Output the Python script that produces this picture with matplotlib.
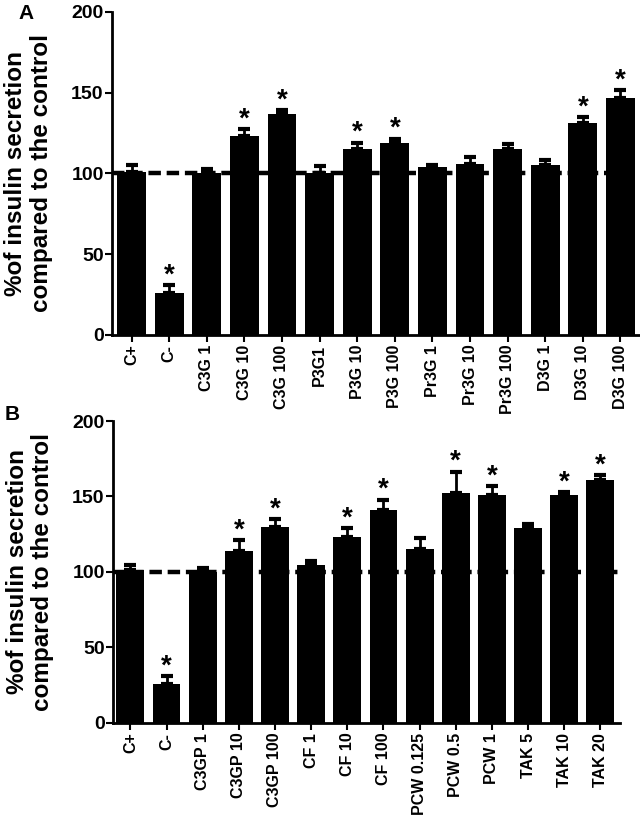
import matplotlib
matplotlib.use("Agg")
import matplotlib.pyplot as plt

plt.rcParams['font.family'] = ['Liberation Sans', 'DejaVu Sans']
plt.rcParams['font.weight'] = 'bold'

# Painel A
labels_a = ["C+", "C-", "C3G 1", "C3G 10", "C3G 100", "P3G1", "P3G 10", "P3G 100",
            "Pr3G 1", "Pr3G 10", "Pr3G 100", "D3G 1", "D3G 10", "D3G 100"]
media_a = [101, 26, 100, 123, 137, 100, 115, 119, 104, 106, 115, 105, 131, 147]
erro_a = [4, 5, 2.5, 4.5, 2, 4.5, 4, 2.5, 1, 4.5, 3, 3.5, 4, 4.5]
sig_a = [0, 1, 0, 1, 1, 0, 1, 1, 0, 0, 0, 0, 1, 1]

# Painel B
labels_b = ["C+", "C-", "C3GP 1", "C3GP 10", "C3GP 100", "CF 1", "CF 10", "CF 100",
            "PCW 0.125", "PCW 0.5", "PCW 1", "TAK 5", "TAK 10", "TAK 20"]
media_b = [101.5, 26, 100, 114, 130, 104.5, 123, 141, 115.5, 152, 151, 129, 151, 161]
erro_b = [3, 5, 2.5, 7, 5, 3, 6, 7, 7, 14.5, 6, 2.5, 2, 3]
sig_b = [0, 1, 0, 1, 1, 0, 1, 1, 0, 1, 1, 0, 1, 1]

ylabel = "%of insulin secretion\ncompared to the control"

fig = plt.figure(figsize=(6.4, 8.21), dpi=100)
ax_a = fig.add_axes([0.175, 0.592, 0.825, 0.3934])
ax_b = fig.add_axes([0.1766, 0.1194, 0.792, 0.3678])


def painel(ax, labels, media, erro, sig, xlim, letra, lx, ly):
    x = list(range(len(labels)))
    ax.axhline(100, color='black', lw=3.2, ls=(0, (2.8, 1.3)), zorder=1)
    ax.bar(x, media, width=0.77, color='black', zorder=2)
    ax.errorbar(x, media, yerr=[[0] * len(x), erro], fmt='none', ecolor='black',
                elinewidth=2, capsize=4, capthick=3, zorder=3)
    for i in x:
        if sig[i]:
            ax.annotate("*", (i, media[i] + erro[i]), xytext=(0, 2),
                        textcoords='offset points', ha='center', va='baseline',
                        fontsize=20, fontweight='bold')
    ax.set_xlim(xlim)
    ax.set_ylim(0, 200)
    ax.set_yticks([0, 50, 100, 150, 200])
    ax.set_xticks(x)
    ax.set_xticklabels(labels, rotation=90, fontsize=11.5, fontweight='bold')
    ax.tick_params(axis='y', labelsize=14, width=1.5, length=5, pad=1)
    ax.tick_params(axis='x', width=1.5, length=5, pad=2)
    for t in ax.get_yticklabels():
        t.set_fontweight('bold')
    ax.spines['top'].set_visible(False)
    ax.spines['right'].set_visible(False)
    ax.spines['left'].set_linewidth(2)
    ax.spines['bottom'].set_linewidth(2)
    ax.set_ylabel(ylabel, fontsize=17.5, fontweight='bold', linespacing=1.15)
    ax.yaxis.set_label_coords(lx, 0.5)
    fig.text(ly[0], ly[1], letra, fontsize=15, fontweight='bold', ha='left', va='top')


painel(ax_a, labels_a, media_a, erro_a, sig_a, (-0.52, 13.52), "A", -0.112, (18 / 640, 1 - 4 / 821))
painel(ax_b, labels_b, media_b, erro_b, sig_b, (-0.48, 13.54), "B", -0.116, (5 / 640, 1 - 405 / 821))

fig.savefig("out.png", dpi=100)
